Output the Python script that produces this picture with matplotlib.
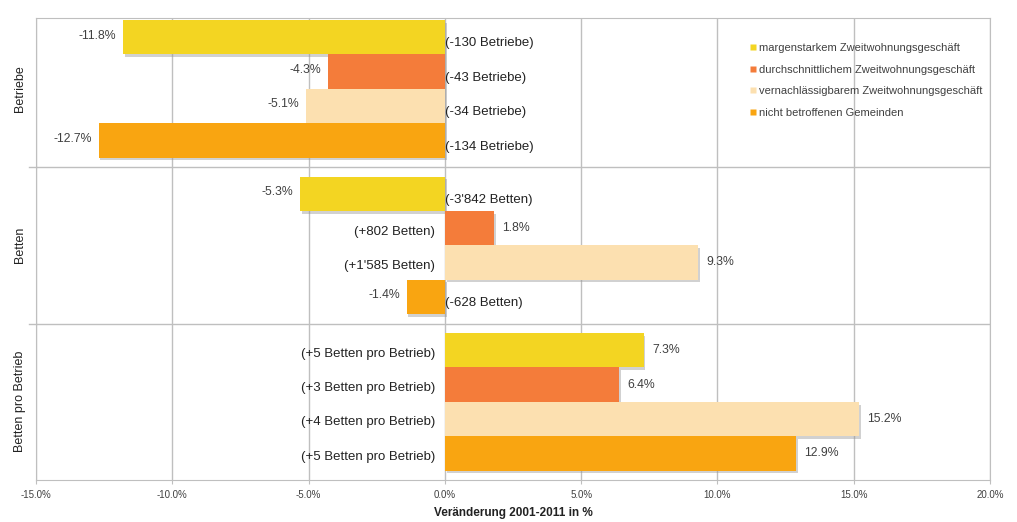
import matplotlib
matplotlib.use("Agg")
import matplotlib.pyplot as plt
import matplotlib.patheffects as pe
from matplotlib.lines import Line2D

# data
groups = ["Betriebe", "Betten", "Betten pro Betrieb"]
series = ["margenstarkem Zweitwohnungsgeschäft",
          "durchschnittlichem Zweitwohnungsgeschäft",
          "vernachlässigbarem Zweitwohnungsgeschäft",
          "nicht betroffenen Gemeinden"]
colors = ["#F3D522", "#F47C3A", "#FCE0B0", "#F9A511"]

betriebe = [-11.8, -4.3, -5.1, -12.7]
betten = [-5.3, 1.8, 9.3, -1.4]
pro_betrieb = [7.3, 6.4, 15.2, 12.9]

betriebe_txt = ["(-130 Betriebe)", "(-43 Betriebe)", "(-34 Betriebe)", "(-134 Betriebe)"]
betten_txt = ["(-3'842 Betten)", "(+802 Betten)", "(+1'585 Betten)", "(-628 Betten)"]
pro_betrieb_txt = ["(+5 Betten pro Betrieb)", "(+3 Betten pro Betrieb)",
                   "(+4 Betten pro Betrieb)", "(+5 Betten pro Betrieb)"]

xticks = [-15, -10, -5, 0, 5, 10, 15, 20]

values = [betriebe, betten, pro_betrieb]
texts = [betriebe_txt, betten_txt, pro_betrieb_txt]

plt.rcParams['font.family'] = ['Liberation Sans', 'DejaVu Sans']

fig = plt.figure(figsize=(10.17, 5.22), dpi=100)
ax = fig.add_axes([0.0354, 0.0805, 0.938, 0.885])

span = 4.55
pad = (span - 4) / 2
shadow = [pe.SimplePatchShadow(offset=(1.2, -2), shadow_rgbFace="#999999", alpha=0.45), pe.Normal()]

for g, (vals, txts) in enumerate(zip(values, texts)):
    for i, (v, t) in enumerate(zip(vals, txts)):
        y = g * span + pad + 0.5 + i
        ax.barh(y, v, height=1.0, color=colors[i], zorder=3, path_effects=shadow)
        pct = f"{v:.1f}%"
        if v < 0:
            ax.text(v - 0.25, y - 0.05, pct, ha="right", va="center", fontsize=8.8, color="#404040", zorder=4)
            ax.text(0.0, y + 0.18, t, ha="left", va="center", fontsize=9.5, color="#222222", zorder=4)
        else:
            ax.text(v + 0.3, y, pct, ha="left", va="center", fontsize=8.8, color="#404040", zorder=4)
            ax.text(-0.35, y + 0.1, t, ha="right", va="center", fontsize=9.5, color="#222222", zorder=4)

# group separators
for g in range(1, 3):
    ax.axhline(g * span, color="#BFBFBF", lw=1, zorder=1)
    ax.plot([-15.25, -15], [g * span, g * span], color="#BFBFBF", lw=1, clip_on=False)

ax.set_xlim(-15, 20)
ax.set_ylim(3 * span, pad - 0.06)
ax.set_xticks(xticks)
ax.set_xticklabels([f"{x:.1f}%" for x in xticks], fontsize=7, color="#404040")
ax.set_yticks([])
ax.grid(axis="x", color="#BFBFBF", lw=1, zorder=0)
ax.tick_params(axis="x", length=3, color="#BFBFBF", pad=4)
for s in ax.spines.values():
    s.set_color("#BFBFBF")

for g, name in enumerate(groups):
    ax.text(-15.6, g * span + span / 2, name, rotation=90, ha="center", va="center",
            fontsize=9, color="#222222")

ax.set_xlabel("Veränderung 2001-2011 in %", fontsize=8.5, fontweight="bold", color="#222222", labelpad=5)

handles = [Line2D([0], [0], marker="s", color="none", markerfacecolor=c, markeredgecolor="none",
                  markersize=4) for c in colors]
leg = ax.legend(handles, series, loc="upper left", bbox_to_anchor=(0.742, 0.958), frameon=False,
                fontsize=8, handlelength=0.6, handletextpad=0.25, labelspacing=1.05, borderpad=0)
for t in leg.get_texts():
    t.set_color("#404040")

fig.savefig("out.png", dpi=100)
